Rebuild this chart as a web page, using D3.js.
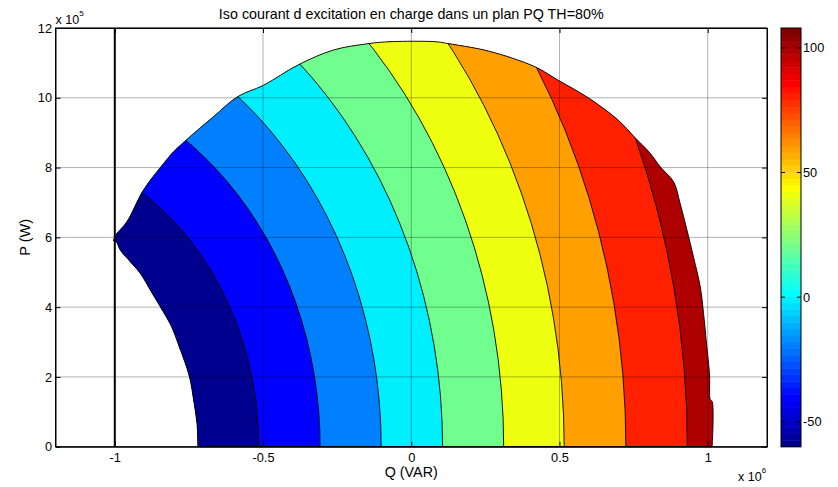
<!DOCTYPE html>
<html><head><meta charset="utf-8">
<script src="https://cdn.jsdelivr.net/npm/d3@7"></script>
<style>
body{margin:0;background:#fff}
text{font-family:"Liberation Sans",Arial,Helvetica,sans-serif;fill:#000}
</style></head>
<body>
<svg id="chart" width="838" height="487"></svg>
<script>
// ---- data ----
const title = "Iso courant d excitation en charge dans un plan PQ TH=80%";
const xLabel = "Q (VAR)";
const yLabel = "P (W)";
// filled-contour levels (lower bound of each band)
const levels = [-60, -40, -20, 0, 20, 40, 60, 80, 100];
// contour lines: level and Q intercept on the P = 0 axis
const lineLevels = [-40, -20, 0, 20, 40, 60, 80, 100];
const lineQ = [-0.5145e6, -0.3074e6, -0.1014e6, 0.1057e6, 0.3118e6, 0.5159e6, 0.7240e6, 0.9314e6];
// common centre of the iso-current circles (on P = 0)
const centreQ = -1.385e6;
// outline of the computed (valid) region: inner edge (bottom -> tip)
const innerQ = [-0.7194e6, -0.7228e6, -0.7342e6, -0.7454e6, -0.7622e6, -0.7825e6, -0.8095e6, -0.8465e6,
  -0.8803e6, -0.914e6, -0.9477e6, -0.9814e6, -0.9949e6, -1.004e6];
const innerP = [0, 0.670e5, 1.338e5, 1.911e5, 2.39e5, 2.865e5, 3.460e5, 4.011e5,
  4.49e5, 4.968e5, 5.301e5, 5.636e5, 5.874e5, 5.9e5];
// outer edge (tip -> bottom right)
const outerQ = [-1.004e6, -0.998e6, -0.959e6, -0.903e6, -0.835e6,
  -0.802e6, -0.751e6, -0.667e6, -0.586e6, -0.498e6, -0.382e6, -0.262e6, -0.146e6, -0.088e6, 0.03e6, 0.091e6,
  0.119e6, 0.26e6, 0.417e6, 0.496e6, 0.597e6, 0.698e6, 0.752e6, 0.806e6, 0.840e6, 0.885e6, 0.907e6, 0.930e6,
  0.952e6, 0.975e6, 0.986e6, 0.997e6, 1.006e6, 1.009e6, 1.015e6, 1.015e6];
const outerP = [5.9e5, 6.05e5, 6.45e5, 7.36e5, 8.12e5,
  8.45e5, 8.85e5, 9.46e5, 10.03e5, 10.36e5, 10.94e5, 11.37e5, 11.55e5, 11.6e5, 11.62e5, 11.6e5,
  11.56e5, 11.34e5, 10.89e5, 10.5e5, 10.0e5, 9.36e5, 8.88e5, 8.41e5, 8.02e5, 7.59e5, 6.97e5, 6.21e5,
  5.44e5, 4.58e5, 3.82e5, 2.865e5, 2.10e5, 1.338e5, 1.30e5, 0];
// vertical limit line
const limitQ = -1e6;
// axes
const xDomain = [-1.2e6, 1.2e6];
const yDomain = [0, 12e5];
const xTicks = [-1e6, -0.5e6, 0, 0.5e6, 1e6];
const xTickLabels = ["-1", "-0.5", "0", "0.5", "1"];
const yTicks = [0, 2e5, 4e5, 6e5, 8e5, 10e5, 12e5];
const yTickLabels = ["0", "2", "4", "6", "8", "10", "12"];
const cDomain = [-60, 108];
const cTicks = [-50, 0, 50, 100];
const cTickLabels = ["-50", "0", "50", "100"];

// ---- jet colormap (MATLAB, 64 entries) ----
function jet(m) {
  const n = Math.ceil(m / 4);
  const u = [];
  for (let i = 1; i <= n; i++) u.push(i / n);
  for (let i = 1; i < n; i++) u.push(1);
  for (let i = n; i >= 1; i--) u.push(i / n);
  const g0 = Math.ceil(n / 2) - (m % 4 === 1 ? 1 : 0);
  const cols = Array.from({length: m}, () => [0, 0, 0]);
  u.forEach((v, i) => {
    const g = g0 + i + 1, r = g + n, b = g - n;
    if (r >= 1 && r <= m) cols[r - 1][0] = v;
    if (g >= 1 && g <= m) cols[g - 1][1] = v;
    if (b >= 1 && b <= m) cols[b - 1][2] = v;
  });
  return cols.map(c => d3.rgb(c[0] * 255, c[1] * 255, c[2] * 255).formatHex());
}
const cmap = jet(64);
function colorOf(v) {
  let k = Math.floor((v - cDomain[0]) / (cDomain[1] - cDomain[0]) * 64);
  k = Math.max(0, Math.min(63, k));
  return cmap[k];
}

// ---- layout ----
const svg = d3.select("#chart");
const L = 55.5, R = 767, T = 28, B = 446.7;
const x = d3.scaleLinear().domain(xDomain).range([L, R]);
const y = d3.scaleLinear().domain(yDomain).range([B, T]);

const smooth = d3.line().curve(d3.curveCatmullRom.alpha(0.5));
const innerPts = innerQ.map((q, i) => [x(q), y(innerP[i])]);
const outerPts = outerQ.map((q, i) => [x(q), y(outerP[i])]);
const domainPath = smooth(innerPts) + smooth(outerPts).replace(/^M/, "L") + "Z";

svg.append("defs").append("clipPath").attr("id", "dom")
  .append("path").attr("d", domainPath);

const g = svg.append("g").attr("clip-path", "url(#dom)");
// highest band fills the whole valid region
g.append("rect").attr("x", L).attr("y", T).attr("width", R - L).attr("height", B - T)
  .attr("fill", colorOf(levels[levels.length - 1]));
// nested circles, largest first, each filled with the band below its level
const circles = lineQ.map((q, i) => ({q, lev: lineLevels[i], r: q - centreQ}));
circles.slice().sort((a, b) => b.r - a.r).forEach(c => {
  const bandBelow = levels[levels.indexOf(c.lev) - 1];
  g.append("ellipse")
    .attr("cx", x(centreQ)).attr("cy", y(0))
    .attr("rx", x(centreQ + c.r) - x(centreQ))
    .attr("ry", y(0) - y(c.r))
    .attr("fill", colorOf(bandBelow))
    .attr("stroke", "#000").attr("stroke-width", 0.9);
});

// grid
const grid = svg.append("g");
xTicks.forEach(t => grid.append("line").attr("x1", x(t)).attr("x2", x(t)).attr("y1", T).attr("y2", B)
  .attr("stroke", "#000").attr("stroke-opacity", 0.3).attr("stroke-width", 1));
yTicks.forEach(t => grid.append("line").attr("x1", L).attr("x2", R).attr("y1", y(t)).attr("y2", y(t))
  .attr("stroke", "#000").attr("stroke-opacity", 0.3).attr("stroke-width", 1));

// outline of the region
svg.append("path").attr("d", domainPath)
  .attr("fill", "none").attr("stroke", "#000").attr("stroke-width", 0.9);

// vertical limit line
svg.append("line").attr("x1", x(limitQ)).attr("x2", x(limitQ)).attr("y1", y(yDomain[1])).attr("y2", y(yDomain[0]))
  .attr("stroke", "#000").attr("stroke-width", 2);

// axes
const fs = "12.8px";
const ax = svg.append("g").attr("transform", `translate(0,${B})`)
  .call(d3.axisBottom(x).tickValues(xTicks).tickFormat((d, i) => xTickLabels[i]).tickSizeInner(-5).tickSizeOuter(0).tickPadding(6));
const ay = svg.append("g").attr("transform", `translate(${L},0)`)
  .call(d3.axisLeft(y).tickValues(yTicks).tickFormat((d, i) => yTickLabels[i]).tickSizeInner(-5).tickSizeOuter(0).tickPadding(3.5));
const axT = svg.append("g").attr("transform", `translate(0,${T})`)
  .call(d3.axisTop(x).tickValues(xTicks).tickFormat("").tickSizeInner(-5).tickSizeOuter(0));
const ayR = svg.append("g").attr("transform", `translate(${R},0)`)
  .call(d3.axisRight(y).tickValues(yTicks).tickFormat("").tickSizeInner(-5).tickSizeOuter(0));
[ax, ay, axT, ayR].forEach(a => {
  a.selectAll("text").style("font-size", fs).attr("fill", "#000");
  a.selectAll("line").attr("stroke", "#000");
  a.select(".domain").attr("stroke", "#000").attr("stroke-width", 1);
});
// box
svg.append("rect").attr("x", L).attr("y", T).attr("width", R - L).attr("height", B - T)
  .attr("fill", "none").attr("stroke", "#000").attr("stroke-width", 1);

// exponents
const e5 = svg.append("text").attr("x", L).attr("y", 24).style("font-size", "12.5px");
e5.append("tspan").text("x 10");
e5.append("tspan").attr("dy", -8).style("font-size", "8px").text("5");
const e6 = svg.append("text").attr("x", 738).attr("y", 480.5).style("font-size", "12.5px");
e6.append("tspan").text("x 10");
e6.append("tspan").attr("dy", -8).style("font-size", "8px").text("6");

// labels
svg.append("text").attr("x", (L + R) / 2).attr("y", 18.5).attr("text-anchor", "middle")
  .style("font-size", "14.3px").text(title);
svg.append("text").attr("x", (L + R) / 2).attr("y", 476.5).attr("text-anchor", "middle")
  .style("font-size", "14.3px").text(xLabel);
svg.append("text").attr("transform", `translate(29.5,${(T + B) / 2}) rotate(-90)`).attr("text-anchor", "middle")
  .style("font-size", "14.5px").text(yLabel);

// colorbar
const cbX = 781, cbW = 20;
const cy = d3.scaleLinear().domain(cDomain).range([B, T]);
const step = (cDomain[1] - cDomain[0]) / cmap.length;
const cb = svg.append("g");
cmap.forEach((c, k) => {
  const y0 = cy(cDomain[0] + k * step), y1 = cy(cDomain[0] + (k + 1) * step);
  cb.append("rect").attr("x", cbX).attr("y", y1).attr("width", cbW).attr("height", y0 - y1 + 0.5).attr("fill", c);
});
cb.append("rect").attr("x", cbX).attr("y", T).attr("width", cbW).attr("height", B - T)
  .attr("fill", "none").attr("stroke", "#000").attr("stroke-width", 1);
cTicks.forEach((t, i) => {
  cb.append("line").attr("x1", cbX).attr("x2", cbX + 4).attr("y1", cy(t)).attr("y2", cy(t)).attr("stroke", "#000");
  cb.append("line").attr("x1", cbX + cbW - 4).attr("x2", cbX + cbW).attr("y1", cy(t)).attr("y2", cy(t)).attr("stroke", "#000");
  cb.append("text").attr("x", cbX + cbW + 2).attr("y", cy(t)).attr("dy", "0.35em").style("font-size", fs).text(cTickLabels[i]);
});
</script>
</body></html>
